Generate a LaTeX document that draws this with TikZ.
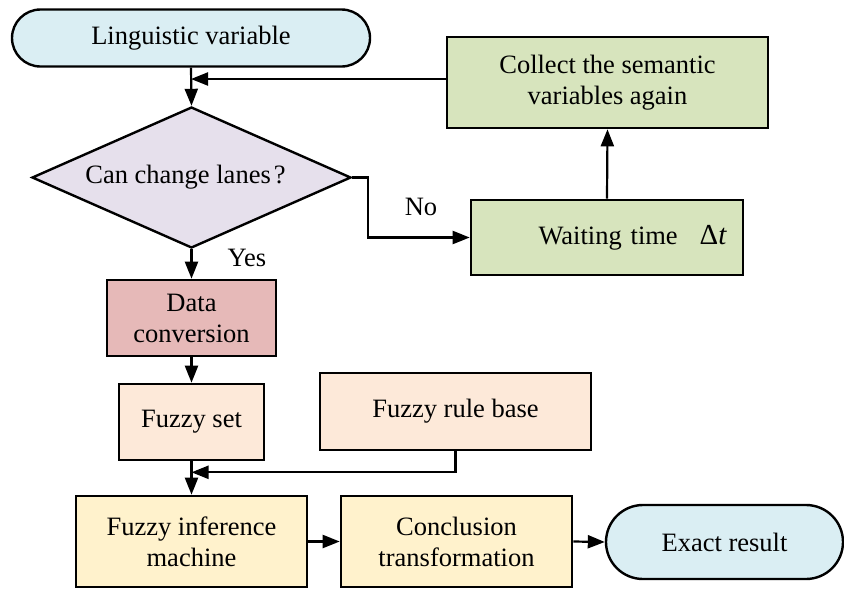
\documentclass[tikz,border=0pt]{standalone}
\usepackage{fontspec}
\setmainfont{Liberation Serif}
\usetikzlibrary{shapes.geometric,shapes.misc,arrows.meta}
\definecolor{lvblue}{HTML}{DAEEF3}
\definecolor{diamfill}{HTML}{E6E0EC}
\definecolor{greenfill}{HTML}{D7E4BD}
\definecolor{redfill}{HTML}{E6B9B8}
\definecolor{peachfill}{HTML}{FDE9D9}
\definecolor{yellowfill}{HTML}{FFF2CC}
\begin{document}
\begin{tikzpicture}[x=1pt,y=-1pt,
  txt/.style={font=\fontsize{26.5}{31}\selectfont},
  box/.style={txt, draw, line width=2.6pt, rectangle, align=center, inner sep=0pt},
  term/.style={txt, draw, line width=2.4pt, rounded rectangle, fill=lvblue, inner sep=0pt},
  arr/.style={line width=2.2pt, -{Triangle[length=17pt,width=13pt]}}
]
\useasboundingbox (0,0) rectangle (844,590);

\node[term, minimum width=358pt, minimum height=57pt] (lv) at (191,38) {Linguistic variable};
\node[box, fill=greenfill, minimum width=321pt, minimum height=91pt] (collect) at (607.5,82.5) {Collect the semantic\\variables again};
\node[txt, draw, line width=2.4pt, diamond, aspect=2.26, fill=diamfill, minimum width=319pt, minimum height=141pt, inner sep=2pt] (dec) at (191.5,177.5) {\hspace{-12pt}Can change lanes\hspace{3pt}?};
\node[box, fill=greenfill, minimum width=272pt, minimum height=75pt, text width=240pt, inner xsep=16pt, align=right] (wait) at (607,237.5) {Waiting time\hspace{22pt}{\fontsize{29}{31}\selectfont Δ\textit{t}}};
\node[box, fill=redfill, minimum width=169pt, minimum height=76pt] (dc) at (191.5,318) {Data\\conversion};
\node[box, fill=peachfill, minimum width=145pt, minimum height=76pt] (fs) at (191.5,422) {Fuzzy set};
\node[box, fill=peachfill, minimum width=271pt, minimum height=77pt] (frb) at (455.5,411.5) {Fuzzy rule base};
\node[box, fill=yellowfill, minimum width=231pt, minimum height=91pt] (fim) at (191.5,541.5) {Fuzzy inference\\machine};
\node[box, fill=yellowfill, minimum width=231pt, minimum height=91pt] (ct) at (456.5,541.5) {Conclusion\\transformation};
\node[term, minimum width=237pt, minimum height=74pt] (er) at (724.5,542) {Exact result};

\node[txt] (no) at (421,207) {No};
\node[txt] (yes) at (247,258) {Yes};

\coordinate (fbstart) at ([yshift=3.5pt]collect.west);
\coordinate (fbend) at (lv.south |- fbstart);
\coordinate (rbjoin) at ([yshift=-11pt]fs.south);

\draw[arr] (lv.south) -- (dec.north);
\draw[arr] (fbstart) -- (fbend);
\draw[arr] (dec.east) -- ++(16,0) |- (wait.west);
\draw[arr] (wait.north) -- (collect.south);
\draw[arr] (dec.south) -- (dc.north);
\draw[arr] (dc.south) -- (fs.north);
\draw[arr] (fs.south) -- (fim.north);
\draw[arr] (frb.south) |- (rbjoin);
\draw[arr] (fim.east) -- (ct.west);
\draw[arr] (ct.east) -- (er.west);
\end{tikzpicture}
\end{document}
